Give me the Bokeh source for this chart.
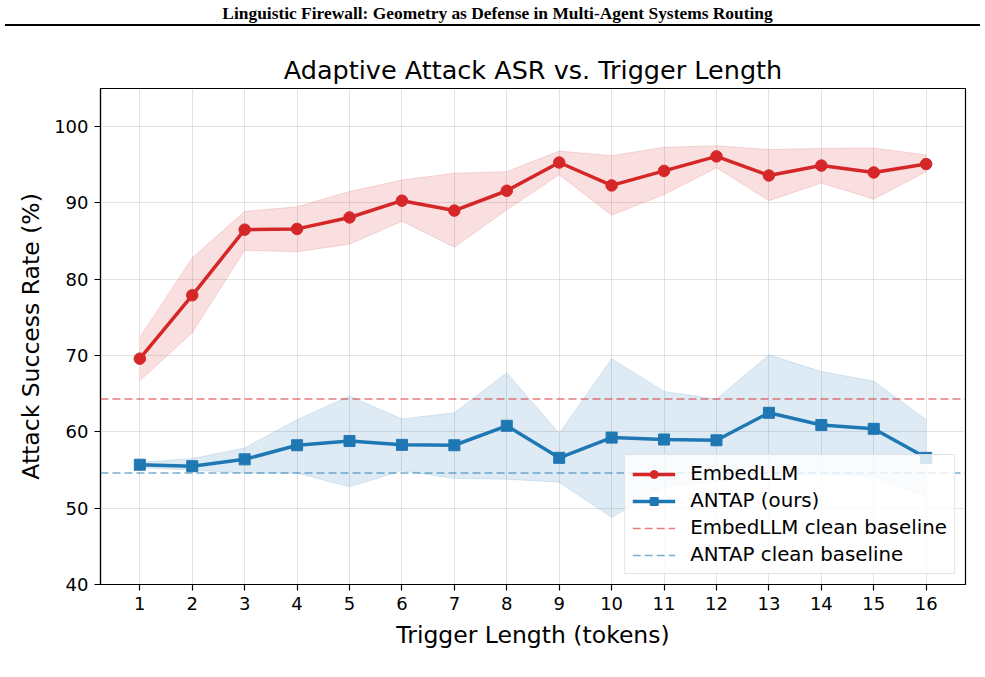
from bokeh.plotting import figure
from bokeh.models import Range1d, Legend, LegendItem, FixedTicker, Div
from bokeh.layouts import column
from bokeh.embed import file_html
from bokeh.resources import INLINE
from bokeh.core.properties import value

# ---------------- data ----------------
trigger_len = list(range(1, 17))
embed_mean = [69.6, 77.9, 86.5, 86.6, 88.1, 90.3, 89.0, 91.6, 95.3, 92.3, 94.2, 96.1, 93.6, 94.9, 94.0, 95.1]
embed_hi = [72.4, 82.8, 88.9, 89.5, 91.5, 93.0, 93.9, 94.1, 96.8, 96.2, 97.3, 97.5, 97.0, 97.15, 97.2, 96.3]
embed_lo = [66.7, 73.0, 83.8, 83.6, 84.6, 87.6, 84.2, 89.1, 93.7, 88.4, 91.1, 94.6, 90.3, 92.6, 90.5, 94.1]
antap_mean = [55.7, 55.5, 56.4, 58.25, 58.8, 58.3, 58.25, 60.8, 56.6, 59.25, 59.0, 58.9, 62.5, 60.9, 60.4, 56.6]
antap_hi = [56.0, 56.5, 57.9, 61.6, 64.7, 61.7, 62.5, 67.75, 59.8, 69.6, 65.3, 64.3, 70.1, 67.9, 66.65, 61.6]
antap_lo = [55.3, 55.0, 54.6, 54.6, 52.8, 54.9, 53.9, 53.8, 53.4, 48.8, 52.8, 53.5, 54.2, 54.5, 54.1, 51.6]
embed_clean = 64.3
antap_clean = 54.6

x_start, x_end = 0.25, 16.75
y_start, y_end = 40, 105
x_ticks = list(range(1, 17))
y_ticks = [40, 50, 60, 70, 80, 90, 100]

header_text = "Linguistic Firewall: Geometry as Defense in Multi-Agent Systems Routing"
title_text = "Adaptive Attack ASR vs. Trigger Length"
x_label = "Trigger Length (tokens)"
y_label = "Attack Success Rate (%)"
labels = ["EmbedLLM", "ANTAP (ours)", "EmbedLLM clean baseline", "ANTAP clean baseline"]

RED = "#d62728"
BLUE = "#1f77b4"
FONT = "DejaVu Sans"

# ---------------- main plot ----------------
p = figure(width=985, height=651, x_range=Range1d(x_start, x_end), y_range=Range1d(y_start, y_end),
           toolbar_location=None, output_backend="svg", title=title_text,
           min_border_left=100, min_border_right=20, min_border_top=62, min_border_bottom=93)

p.title.align = "center"
p.title.text_font = FONT
p.title.text_font_style = "normal"
p.title.text_font_size = "25.5px"
p.title.text_color = "black"
p.title.standoff = 8

p.xaxis.ticker = FixedTicker(ticks=x_ticks)
p.yaxis.ticker = FixedTicker(ticks=y_ticks)
p.xaxis.axis_label = x_label
p.yaxis.axis_label = y_label
for ax in (p.xaxis, p.yaxis):
    ax.axis_label_text_font = FONT
    ax.axis_label_text_font_style = "normal"
    ax.axis_label_text_font_size = "23.5px"
    ax.axis_label_text_color = "black"
    ax.major_label_text_font = FONT
    ax.major_label_text_font_size = "18px"
    ax.major_label_text_color = "black"
    ax.axis_line_color = "black"
    ax.axis_line_width = 1.2
    ax.major_tick_line_color = "black"
    ax.major_tick_line_width = 1.2
    ax.major_tick_out = 6
    ax.major_tick_in = 0
    ax.minor_tick_line_color = None
    ax.major_label_standoff = 6
p.xaxis.axis_label_standoff = 8
p.yaxis.axis_label_standoff = 6

p.xgrid.ticker = FixedTicker(ticks=x_ticks)
p.ygrid.ticker = FixedTicker(ticks=y_ticks)
p.grid.grid_line_color = "#b0b0b0"
p.grid.grid_line_alpha = 0.35
p.grid.grid_line_width = 1

p.outline_line_color = "black"
p.outline_line_width = 1.2
p.outline_line_alpha = 1.0

# bands
p.varea(x=trigger_len, y1=embed_lo, y2=embed_hi, fill_color=RED, fill_alpha=0.15)
p.line(trigger_len, embed_hi, line_color=RED, line_alpha=0.15, line_width=1)
p.line(trigger_len, embed_lo, line_color=RED, line_alpha=0.15, line_width=1)
p.varea(x=trigger_len, y1=antap_lo, y2=antap_hi, fill_color=BLUE, fill_alpha=0.15)
p.line(trigger_len, antap_hi, line_color=BLUE, line_alpha=0.15, line_width=1)
p.line(trigger_len, antap_lo, line_color=BLUE, line_alpha=0.15, line_width=1)

# baselines (span the full x range)
r_ec = p.line([x_start, x_end], [embed_clean, embed_clean], line_color=RED, line_alpha=0.6,
              line_width=1.5, line_dash="8 4")
r_ac = p.line([x_start, x_end], [antap_clean, antap_clean], line_color=BLUE, line_alpha=0.6,
              line_width=1.5, line_dash="8 4")

# main series
r_el = p.line(trigger_len, embed_mean, line_color=RED, line_width=3.5)
r_es = p.scatter(trigger_len, embed_mean, marker="circle", size=11.5, fill_color=RED, line_color=RED)
r_al = p.line(trigger_len, antap_mean, line_color=BLUE, line_width=3.5)
r_as = p.scatter(trigger_len, antap_mean, marker="square", size=11, fill_color=BLUE, line_color=BLUE)

legend = Legend(items=[
    LegendItem(label=labels[0], renderers=[r_el, r_es]),
    LegendItem(label=labels[1], renderers=[r_al, r_as]),
    LegendItem(label=labels[2], renderers=[r_ec]),
    LegendItem(label=labels[3], renderers=[r_ac]),
], location="bottom_right")
legend.margin = 10
legend.padding = 7
legend.spacing = 4
legend.glyph_width = 43
legend.glyph_height = 20
legend.label_standoff = 15
legend.label_text_font = FONT
legend.label_text_font_size = "19.8px"
legend.label_text_color = "black"
legend.background_fill_color = "white"
legend.background_fill_alpha = 0.8
legend.border_line_color = "#cccccc"
legend.border_line_width = 1
p.add_layout(legend)

# ---------------- header strip ----------------
h = figure(width=985, height=24, x_range=Range1d(100, 965), y_range=Range1d(24, 0),
           toolbar_location=None, output_backend="svg", min_border=0,
           min_border_left=100, min_border_right=20,
           x_axis_location=None, y_axis_location=None)
h.grid.visible = False
h.outline_line_color = None
h.text(x=[497], y=[12], text=[header_text], text_align="center", text_baseline="middle",
       text_font=value("Liberation Serif"), text_font_style="bold", text_font_size="17.4px",
       text_color="black")

rule = Div(text="", width=975, height=2, margin=(0, 0, 0, 5),
           styles={"background-color": "black"})

layout = column(h, rule, p)
open("out.html", "w").write(file_html(layout, INLINE))
